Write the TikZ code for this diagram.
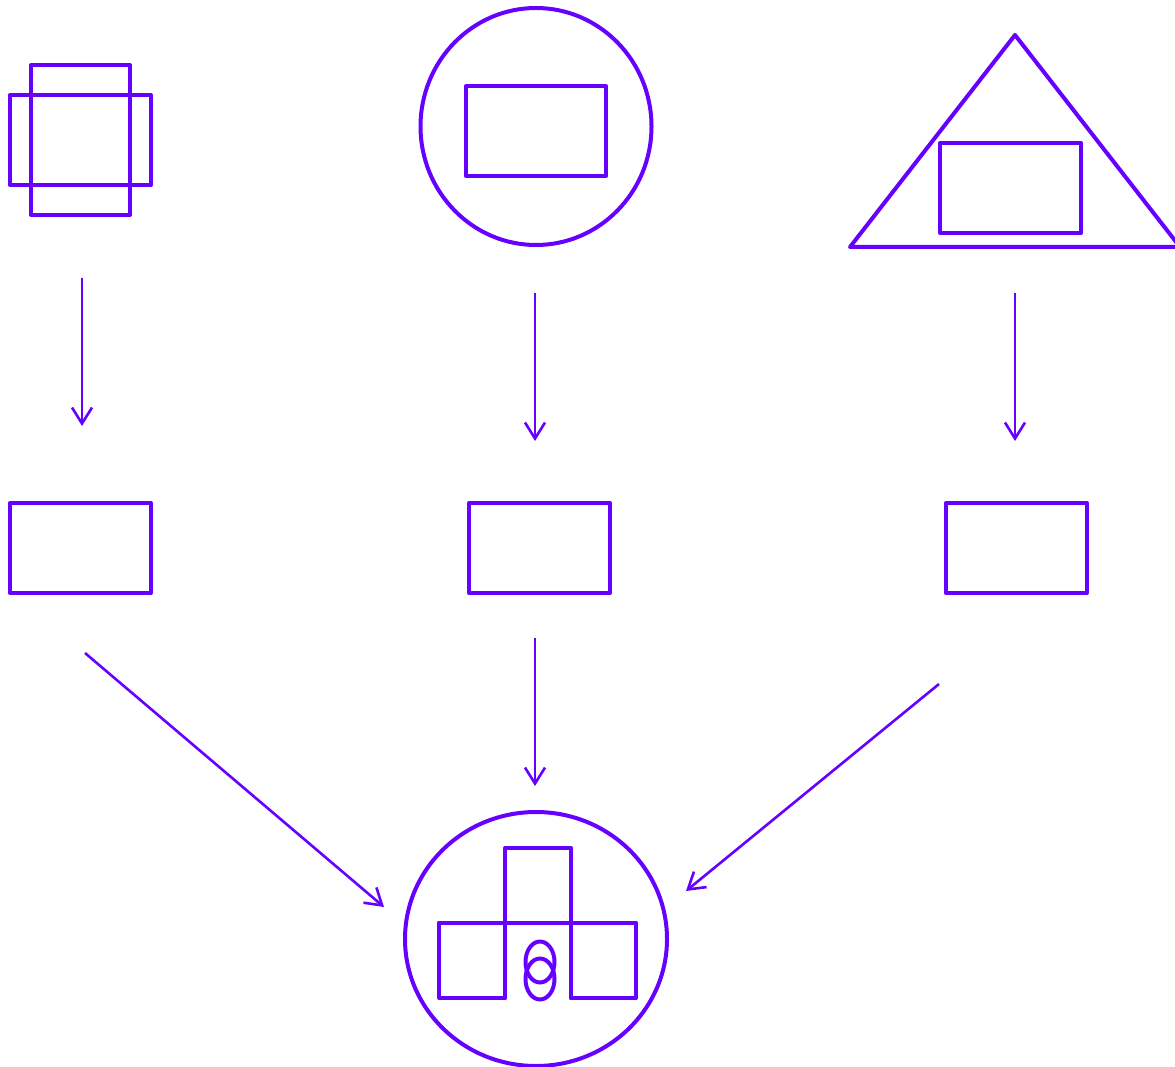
\documentclass[tikz,border=0pt]{standalone}
\usetikzlibrary{arrows.meta}
\definecolor{vio}{RGB}{102,0,255}
\begin{document}
\begin{tikzpicture}[x=1pt,y=-1pt,
  shp/.style={draw=vio,line width=4pt,line join=round,line cap=round},
  arr/.style={draw=vio,line width=2.6pt,-{Straight Barb[length=16pt,width=20pt,line width=2.6pt]}}]
\useasboundingbox (0,0) rectangle (1175,1067);
% top-left
\draw[shp] (10,95) rectangle (151,185);
\draw[shp] (31,65) rectangle (130,215);
% top-middle
\draw[shp] (536,126.5) ellipse [x radius=115.5,y radius=118.5];
\draw[shp] (466,86) rectangle (606,176);
% top-right
\draw[shp] (850,247) -- (1015,35) -- (1180,247) -- cycle;
\draw[shp] (940,143) rectangle (1081,233);
% middle row
\draw[shp] (10,503) rectangle (151,593);
\draw[shp] (469,503) rectangle (610,593);
\draw[shp] (946,503) rectangle (1087,593);
% coordinates for arrows
\coordinate (a1s) at (82,278); \coordinate (a1e) at (82,426);
\coordinate (a2s) at (535,293); \coordinate (a2e) at (535,441);
\coordinate (a3s) at (1015,293); \coordinate (a3e) at (1015,441);
\coordinate (b1s) at (85,653); \coordinate (b1e) at (384,907);
\coordinate (b2s) at (535,638); \coordinate (b2e) at (535,786);
\coordinate (b3s) at (939,684); \coordinate (b3e) at (686,891);
\draw[arr] (a1s) -- (a1e);
\draw[arr] (a2s) -- (a2e);
\draw[arr] (a3s) -- (a3e);
\draw[arr] (b1s) -- (b1e);
\draw[arr] (b2s) -- (b2e);
\draw[arr] (b3s) -- (b3e);
% bottom
\draw[shp] (536,939) ellipse [x radius=131,y radius=127];
\draw[shp] (439,923) -- (636,923);
\draw[shp] (505,998) -- (505,848) -- (571,848) -- (571,998);
\draw[shp] (439,923) -- (439,998) -- (505,998);
\draw[shp] (636,923) -- (636,998) -- (571,998);
\draw[shp] (540,962) ellipse [x radius=14.5,y radius=20.5];
\draw[shp] (540,979) ellipse [x radius=14.5,y radius=20.5];
\end{tikzpicture}
\end{document}
